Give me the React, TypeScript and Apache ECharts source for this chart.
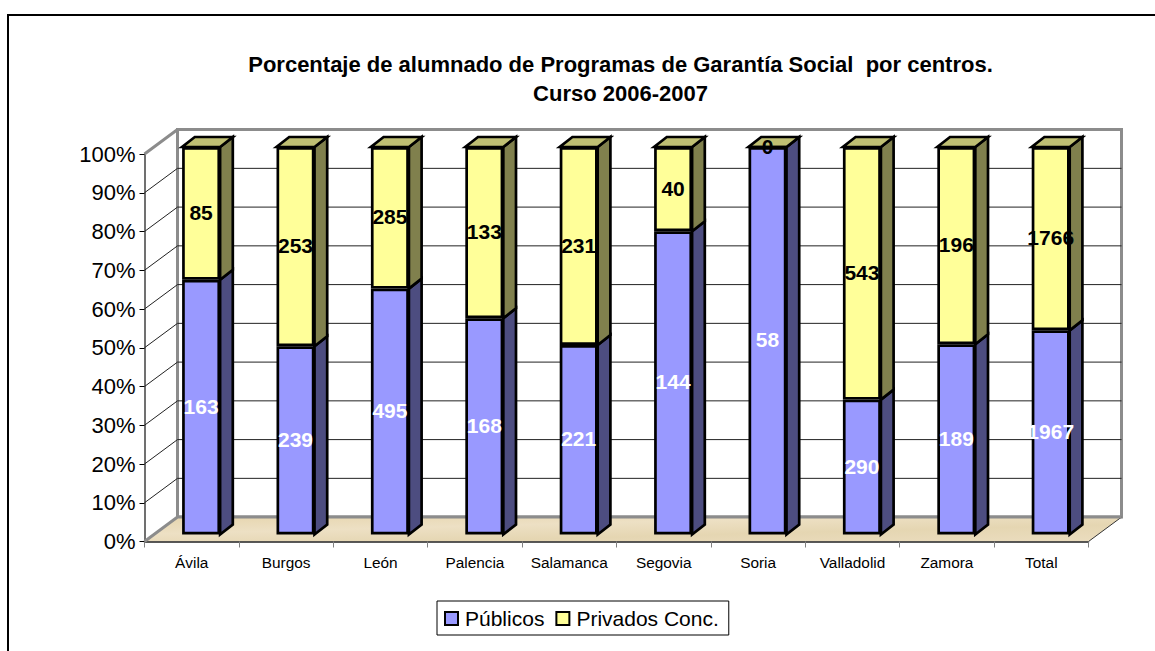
import React, { useEffect, useRef } from "react";
import * as echarts from "echarts";

const titleText = "Porcentaje de alumnado de Programas de Garantía Social  por centros.\nCurso 2006-2007";
const categories = ["Ávila", "Burgos", "León", "Palencia", "Salamanca", "Segovia", "Soria", "Valladolid", "Zamora", "Total"];
const publicos = [163, 239, 495, 168, 221, 144, 58, 290, 189, 1967];
const privados = [85, 253, 285, 133, 231, 40, 0, 543, 196, 1766];
const ticks = [0, 10, 20, 30, 40, 50, 60, 70, 80, 90, 100];

const FONT = "Liberation Sans";
const WALL_DX = 33;
const WALL_DY = 24.4;
const BAR_DX = 12.7;
const BAR_DY = 10;
const BAR_W = 38;
const BAR_BORDER = 2.7;
const FRONT = { left: 144.5, top: 154, width: 944, height: 387.5 };
const GREY = "#8c8c8c";

const pctPub = publicos.map((v, i) => (v / (v + privados[i])) * 100);
const pctPriv = privados.map((v, i) => (v / (v + publicos[i])) * 100);

function sideFace(fill: string) {
  return (params: any, api: any) => {
    const i = api.value(0);
    const a = api.coord([i, api.value(1)]);
    const b = api.coord([i, api.value(2)]);
    const x = a[0] + BAR_W / 2;
    return {
      type: "polygon",
      shape: { points: [[x, a[1]], [x + BAR_DX, a[1] - BAR_DY], [x + BAR_DX, b[1] - BAR_DY], [x, b[1]]] },
      style: { fill, stroke: "#000", lineWidth: BAR_BORDER, lineJoin: "miter" },
    };
  };
}

function topFace(params: any, api: any) {
  const i = api.value(0);
  const a = api.coord([i, 100]);
  const l = a[0] - BAR_W / 2;
  const r = a[0] + BAR_W / 2;
  return {
    type: "polygon",
    shape: { points: [[l, a[1]], [r, a[1]], [r + BAR_DX, a[1] - BAR_DY], [l + BAR_DX, a[1] - BAR_DY]] },
    style: { fill: "#BFBF73", stroke: "#000", lineWidth: BAR_BORDER, lineJoin: "miter" },
  };
}

function wallLine(params: any, api: any) {
  const v = api.value(0);
  const c = params.coordSys;
  const y = api.coord([0, v])[1];
  const edge = v === 0 || v === 100;
  const stroke = edge ? GREY : "#222";
  const lineWidth = edge ? 3 : 1;
  const x0 = c.x;
  const x1 = c.x + WALL_DX;
  const x2 = c.x + c.width + WALL_DX;
  const yb = y - WALL_DY;
  return {
    type: "polyline",
    shape: { points: [[x0, y], [x1, yb], [x2, yb]] },
    style: { fill: "none", stroke, lineWidth },
  };
}

function room(params: any, api: any) {
  const c = params.coordSys;
  const bot = c.y + c.height;
  const top = c.y;
  const x0 = c.x;
  const x1 = c.x + c.width;
  return {
    type: "group",
    children: [
      {
        type: "polygon",
        shape: { points: [[x0 + WALL_DX, top - WALL_DY], [x1 + WALL_DX, top - WALL_DY], [x1 + WALL_DX, bot - WALL_DY], [x0 + WALL_DX, bot - WALL_DY]] },
        style: { fill: "#fff", stroke: GREY, lineWidth: 3 },
      },
      {
        type: "polygon",
        shape: { points: [[x0, bot], [x1, bot], [x1 + WALL_DX, bot - WALL_DY], [x0 + WALL_DX, bot - WALL_DY]] },
        style: {
          fill: new echarts.graphic.LinearGradient(0, 0, 1, 1, [
            { offset: 0, color: "#E6D5AE" },
            { offset: 0.35, color: "#EDE0C4" },
            { offset: 0.65, color: "#E5D6B2" },
            { offset: 1, color: "#EBDDBF" },
          ]),
        },
      },
      {
        type: "line",
        shape: { x1, y1: bot, x2: x1 + WALL_DX, y2: bot - WALL_DY },
        style: { stroke: "#333", lineWidth: 1 },
      },
    ],
  };
}

const barLabel = (color: string, counts: number[]) => ({
  show: true,
  position: "inside",
  offset: [0, -1],
  color,
  fontFamily: FONT,
  fontSize: 21,
  fontWeight: "bold",
  formatter: (p: any) => String(counts[p.dataIndex]),
});

export default function App() {
  const ref = useRef<HTMLDivElement>(null);
  useEffect(() => {
    const chart = echarts.init(ref.current!, null, { renderer: "svg" });
    chart.setOption({
      animation: false,
      backgroundColor: "#fff",
      textStyle: { fontFamily: FONT },
      title: {
        text: titleText,
        left: 615.5,
        top: 44.5,
        textAlign: "center",
        textStyle: { fontFamily: FONT, fontSize: 22, fontWeight: "bold", lineHeight: 29, color: "#000" },
      },
      legend: {
        left: 437,
        top: 601,
        padding: [7, 10, 6, 7],
        itemWidth: 13,
        itemHeight: 13,
        itemGap: 11,
        backgroundColor: "#fff",
        borderColor: "#000",
        borderWidth: 1,
        borderRadius: 0,
        data: ["Públicos", "Privados Conc."],
        icon: "rect",
        itemStyle: { borderColor: "#000", borderWidth: 2 },
        textStyle: { fontFamily: FONT, fontSize: 21, color: "#000", padding: [0, 0, 0, 2] },
      },
      grid: [
        { ...FRONT, containLabel: false },
        { left: FRONT.left + 9.4, top: FRONT.top - 7, width: FRONT.width, height: FRONT.height, containLabel: false },
      ],
      xAxis: [
        {
          type: "category",
          gridIndex: 0,
          data: categories,
          axisLine: { lineStyle: { color: "#222", width: 1.5 } },
          axisTick: { show: true, length: 6, lineStyle: { color: "#808080", width: 1 } },
          axisLabel: { color: "#000", fontFamily: FONT, fontSize: 15.4, margin: 13, interval: 0 },
        },
        { type: "category", gridIndex: 1, data: categories, show: false },
      ],
      yAxis: [
        {
          type: "value",
          gridIndex: 0,
          min: 0,
          max: 100,
          interval: 10,
          splitLine: { show: false },
          axisLine: { show: true, lineStyle: { color: "#707070", width: 2 } },
          axisTick: { show: true, length: 5, lineStyle: { color: "#000", width: 1 } },
          axisLabel: { color: "#000", fontFamily: FONT, fontSize: 22, margin: 9, formatter: "{value}%" },
        },
        { type: "value", gridIndex: 1, min: 0, max: 100, interval: 10, show: false },
      ],
      series: [
        {
          type: "custom",
          name: "room",
          xAxisIndex: 0,
          yAxisIndex: 0,
          z: 0,
          silent: true,
          clip: false,
          data: [[0]],
          renderItem: room,
        },
        {
          type: "custom",
          name: "grid",
          xAxisIndex: 0,
          yAxisIndex: 0,
          z: 1,
          silent: true,
          clip: false,
          encode: { y: 0 },
          data: ticks.map((t) => [t]),
          renderItem: wallLine,
        },
        {
          type: "custom",
          name: "sidePub",
          xAxisIndex: 1,
          yAxisIndex: 1,
          z: 2,
          silent: true,
          clip: false,
          data: pctPub.map((p, i) => [i, 0, p]),
          renderItem: sideFace("#4D4D80"),
        },
        {
          type: "custom",
          name: "sidePriv",
          xAxisIndex: 1,
          yAxisIndex: 1,
          z: 2,
          silent: true,
          clip: false,
          data: pctPub.map((p, i) => [i, p, 100]),
          renderItem: sideFace("#80804D"),
        },
        {
          type: "custom",
          name: "top",
          xAxisIndex: 1,
          yAxisIndex: 1,
          z: 2,
          silent: true,
          clip: false,
          data: categories.map((_, i) => [i]),
          renderItem: topFace,
        },
        {
          type: "bar",
          name: "Públicos",
          xAxisIndex: 1,
          yAxisIndex: 1,
          stack: "t",
          z: 3,
          barWidth: BAR_W,
          data: pctPub,
          itemStyle: { color: "#9999FF", borderColor: "#000", borderWidth: BAR_BORDER },
          label: barLabel("#fff", publicos),
        },
        {
          type: "bar",
          name: "Privados Conc.",
          xAxisIndex: 1,
          yAxisIndex: 1,
          stack: "t",
          z: 3,
          barWidth: BAR_W,
          data: pctPriv,
          itemStyle: { color: "#FFFF99", borderColor: "#000", borderWidth: BAR_BORDER },
          label: barLabel("#000", privados),
        },
      ],
      graphic: [
        {
          type: "polyline",
          silent: true,
          shape: { points: [[8, 651], [8, 15], [1155, 15]] },
          style: { fill: "none", stroke: "#000", lineWidth: 2 },
        },
      ],
    });
    return () => chart.dispose();
  }, []);
  return <div ref={ref} style={{ position: "absolute", left: 0, top: 0, width: 1155, height: 651 }} />;
}
